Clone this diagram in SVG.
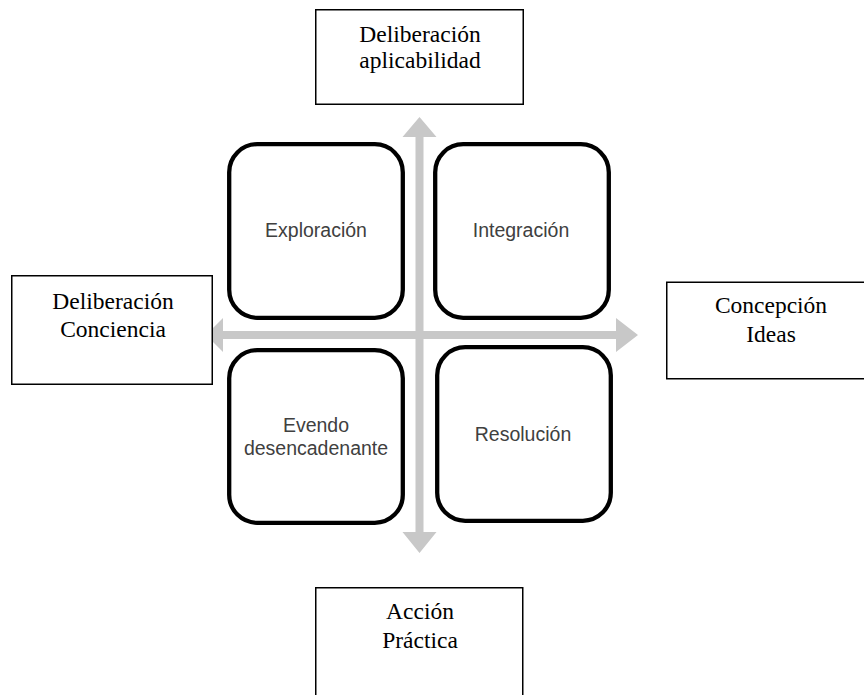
<svg xmlns="http://www.w3.org/2000/svg" width="864" height="695" viewBox="0 0 864 695">
  <style>
    .lbl { fill: #ffffff; stroke: #000000; stroke-width: 1.5; }
    .card { fill: #ffffff; stroke: #000000; stroke-width: 4.3; }
    .serif { font-family: "Liberation Serif", "Times New Roman", serif; font-size: 23.5px; fill: #000000; text-anchor: middle; }
    .sans { font-family: "Liberation Sans", Arial, sans-serif; font-size: 19.5px; fill: #404040; text-anchor: middle; }
    .arrow { fill: #c8c8c8; stroke: none; }
  </style>
  <rect width="864" height="695" fill="#ffffff"/>
  <g id="connectors">
    <polygon class="arrow" points="415.5,137 402.5,137 419.5,117 436.5,137 423.5,137 423.5,532 436.5,532 419.5,553 402.5,532 415.5,532"/>
    <polygon class="arrow" points="223,331 223,318 206,335 223,352 223,339 616,339 616,352 638,335 616,318 616,331"/>
  </g>
  <g id="node-exploracion">
    <rect class="card" x="229.2" y="144.2" width="173.6" height="173.6" rx="28" ry="28"/>
    <text class="sans" x="316" y="237">Exploración</text>
  </g>
  <g id="node-integracion">
    <rect class="card" x="435.2" y="144.2" width="173.6" height="173.6" rx="28" ry="28"/>
    <text class="sans" x="521" y="237">Integración</text>
  </g>
  <g id="node-evendo">
    <rect class="card" x="229.2" y="350.2" width="173.6" height="172.6" rx="28" ry="28"/>
    <text class="sans" x="316" y="432">Evendo</text>
    <text class="sans" x="316" y="455">desencadenante</text>
  </g>
  <g id="node-resolucion">
    <rect class="card" x="437.2" y="347.2" width="173.6" height="173.6" rx="28" ry="28"/>
    <text class="sans" x="523" y="441">Resolución</text>
  </g>
  <g id="node-top">
    <rect class="lbl" x="315.75" y="9.75" width="207.5" height="94.5"/>
    <text class="serif" x="420" y="42">Deliberación</text>
    <text class="serif" x="420" y="68">aplicabilidad</text>
  </g>
  <g id="node-left">
    <rect class="lbl" x="11.75" y="275.75" width="200.5" height="108.5"/>
    <text class="serif" x="113" y="309">Deliberación</text>
    <text class="serif" x="113" y="337">Conciencia</text>
  </g>
  <g id="node-right">
    <rect class="lbl" x="666.75" y="282.25" width="220" height="96.5"/>
    <text class="serif" x="771" y="313">Concepción</text>
    <text class="serif" x="771" y="342">Ideas</text>
  </g>
  <g id="node-bottom">
    <rect class="lbl" x="315.75" y="587.75" width="207" height="120"/>
    <text class="serif" x="420" y="619">Acción</text>
    <text class="serif" x="420" y="648">Práctica</text>
  </g>
</svg>
